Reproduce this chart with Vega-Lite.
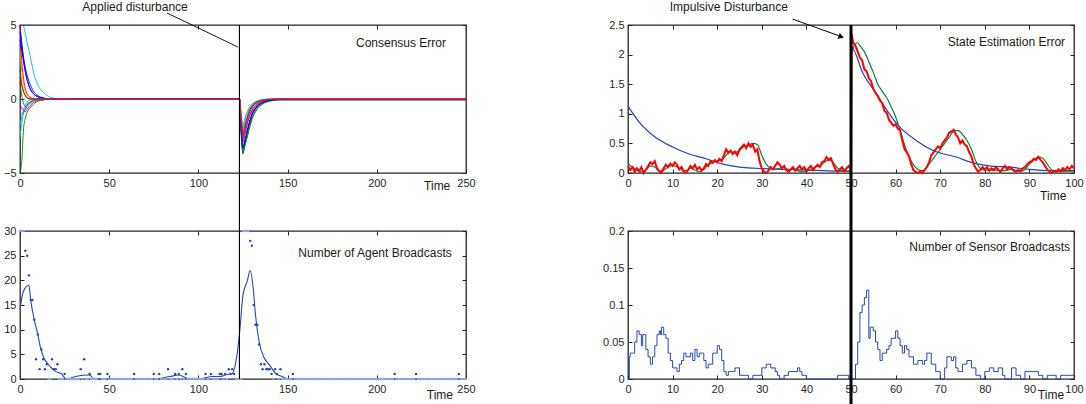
{
"$schema": "https://vega.github.io/schema/vega-lite/v6.json",
"background": "white",
"padding": {"left": 2, "top": 0, "right": 0, "bottom": 0},
"columns": 2,
"spacing": {"row": 58, "column": 162},
"bounds": "flush",
"concat": [
{
"width": 446, "height": 148,
"resolve": {"axis": {"x": "independent", "y": "independent"}},
"layer": [
{"data": {"values": [
{"t":0,"A":5,"B":5,"C":-5,"D":-2.6,"E":-1,"F":3.3,"G":5,"H":4,"I":2,"J":1.2,"K":4.5,"L":-1.8,"M":-0.4,"N":1.5},
{"t":1,"A":5,"B":3.8,"C":-4.2,"D":-1.6,"E":-1,"F":1.8,"G":2.6,"H":3.3,"I":1,"J":0.2,"K":3.6,"L":-1.2,"M":-0.6,"N":0.9},
{"t":2,"A":4.9,"B":2.7,"C":-2,"D":-1,"E":-0.9,"F":1,"G":1.4,"H":2.5,"I":0.5,"J":-0.3,"K":2.8,"L":-0.7,"M":-0.8,"N":0.5},
{"t":3,"A":4.4,"B":1.9,"C":-1.3,"D":-0.6,"E":-0.7,"F":0.5,"G":0.7,"H":1.8,"I":0.25,"J":-0.5,"K":2.1,"L":-0.4,"M":-0.85,"N":0.2},
{"t":4,"A":3.8,"B":1.3,"C":-0.9,"D":-0.35,"E":-0.5,"F":0.25,"G":0.35,"H":1.3,"I":0.1,"J":-0.4,"K":1.6,"L":-0.2,"M":-0.7,"N":0.05},
{"t":6,"A":2.75,"B":0.6,"C":-0.55,"D":-0.15,"E":-0.25,"F":0.05,"G":0.1,"H":0.65,"I":0,"J":-0.2,"K":0.9,"L":-0.05,"M":-0.4,"N":0},
{"t":8,"A":1.6,"B":0.3,"C":-0.3,"D":-0.05,"E":-0.1,"F":0,"G":0,"H":0.3,"I":0,"J":-0.08,"K":0.45,"L":0,"M":-0.2,"N":0},
{"t":10,"A":0.95,"B":0.15,"C":-0.15,"D":0,"E":-0.05,"F":0,"G":0,"H":0.15,"I":0,"J":0,"K":0.22,"L":0,"M":-0.1,"N":0},
{"t":13,"A":0.45,"B":0.05,"C":-0.08,"D":0,"E":0,"F":0,"G":0,"H":0.05,"I":0,"J":0,"K":0.08,"L":0,"M":-0.03,"N":0},
{"t":16,"A":0.18,"B":0,"C":0,"D":0,"E":0,"F":0,"G":0,"H":0,"I":0,"J":0,"K":0.02,"L":0,"M":0,"N":0},
{"t":20,"A":0.04,"B":0,"C":0,"D":0,"E":0,"F":0,"G":0,"H":0,"I":0,"J":0,"K":0,"L":0,"M":0,"N":0},
{"t":123,"A":0,"B":0,"C":0,"D":0,"E":0,"F":0,"G":0,"H":0,"I":0,"J":0,"K":0,"L":0,"M":0,"N":0},
{"t":124,"A":-1.5,"B":-2.2,"C":-2.5,"D":-1.2,"E":-1.6,"F":-1.3,"G":-1.8,"H":-2,"I":-1.4,"J":-2.3,"K":-2.1,"L":-1,"M":-1.7,"N":-1.5},
{"t":125,"A":-2.6,"B":-3.7,"C":-3.6,"D":-2,"E":-2.5,"F":-2.8,"G":-2.9,"H":-3.2,"I":-2.4,"J":-3.4,"K":-3.3,"L":-1.8,"M":-2.7,"N":-2.2},
{"t":126,"A":-2.2,"B":-3,"C":-3.2,"D":-1.5,"E":-2,"F":-2.3,"G":-2.4,"H":-2.8,"I":-1.9,"J":-3.1,"K":-2.9,"L":-1.3,"M":-2.3,"N":-1.8},
{"t":128,"A":-1.2,"B":-1.9,"C":-2.3,"D":-0.8,"E":-1.1,"F":-1.3,"G":-1.4,"H":-1.8,"I":-1,"J":-2.1,"K":-1.9,"L":-0.7,"M":-1.4,"N":-1},
{"t":130,"A":-0.6,"B":-1.1,"C":-1.4,"D":-0.4,"E":-0.6,"F":-0.7,"G":-0.8,"H":-1,"I":-0.5,"J":-1.3,"K":-1.1,"L":-0.35,"M":-0.8,"N":-0.5},
{"t":133,"A":-0.25,"B":-0.5,"C":-0.7,"D":-0.15,"E":-0.25,"F":-0.3,"G":-0.35,"H":-0.45,"I":-0.2,"J":-0.6,"K":-0.5,"L":-0.12,"M":-0.35,"N":-0.2},
{"t":136,"A":-0.1,"B":-0.25,"C":-0.35,"D":-0.05,"E":-0.1,"F":-0.1,"G":-0.15,"H":-0.2,"I":-0.08,"J":-0.3,"K":-0.25,"L":-0.04,"M":-0.15,"N":-0.08},
{"t":140,"A":-0.05,"B":-0.1,"C":-0.15,"D":0,"E":-0.03,"F":-0.03,"G":-0.05,"H":-0.08,"I":-0.02,"J":-0.12,"K":-0.1,"L":0,"M":-0.05,"N":-0.03},
{"t":145,"A":0,"B":-0.05,"C":-0.05,"D":0,"E":0,"F":0,"G":0,"H":-0.03,"I":0,"J":-0.05,"K":-0.04,"L":0,"M":-0.02,"N":0},
{"t":250,"A":0,"B":-0.05,"C":-0.05,"D":0,"E":0,"F":0,"G":0,"H":-0.03,"I":0,"J":-0.05,"K":-0.04,"L":0,"M":-0.02,"N":0}
]},
"transform": [{"fold": ["A","B","C","D","E","F","G","H","I","J","K","L","M","N"], "as": ["s","v"]}],
"mark": {"type": "line", "strokeWidth": 0.9, "interpolate": "monotone"},
"encoding": {
"x": {"field": "t", "type": "quantitative", "scale": {"domain": [0,250], "nice": false}, "axis": {"orient": "bottom", "values": [0,50,100,150,200,250], "title": null}},
"y": {"field": "v", "type": "quantitative", "scale": {"domain": [-5,5], "nice": false}, "axis": {"orient": "left", "values": [-5,0,5], "title": null}},
"color": {"field": "s", "type": "nominal", "legend": null, "scale": {"domain": ["A","B","C","D","E","F","G","H","I","J","K","L","M","N"], "range": ["#00bfbf","#0000ff","#008000","#00bfbf","#bf00bf","#bfbf00","#ff0000","#0000ff","#404040","#008000","#0000ff","#00bfbf","#bf00bf","#ff0000"]}}
}},
{"data": {"values": [{"t":0,"v":0}]}, "mark": {"type": "point", "opacity": 0},
"encoding": {
"x": {"field": "t", "type": "quantitative", "scale": {"domain": [0,250], "nice": false}, "axis": {"orient": "top", "labels": false, "values": [0,50,100,150,200,250], "title": null}},
"y": {"field": "v", "type": "quantitative", "scale": {"domain": [-5,5], "nice": false}, "axis": {"orient": "right", "labels": false, "values": [-5,0,5], "title": null}}
}},
{"data": {"values": [{"t":123,"v":5,"v2":-8.92}]}, "mark": {"type": "rule", "color": "#000000", "strokeWidth": 1.1},
"encoding": {"x": {"field": "t", "type": "quantitative", "axis": null, "scale": {"domain": [0,250], "nice": false}}, "y": {"field": "v", "type": "quantitative", "axis": null, "scale": {"domain": [-5,5], "nice": false}}, "y2": {"field": "v2"}}},
{"data": {"values": [{"t":82.4,"v":5.81,"t2":122.2,"v2":3.51}]}, "mark": {"type": "rule", "color": "#000000", "strokeWidth": 0.9},
"encoding": {"x": {"field": "t", "type": "quantitative", "axis": null, "scale": {"domain": [0,250], "nice": false}}, "y": {"field": "v", "type": "quantitative", "axis": null, "scale": {"domain": [-5,5], "nice": false}}, "x2": {"field": "t2"}, "y2": {"field": "v2"}}},
{"data": {"values": [{"t":64.5,"v":5.95,"label":"Applied disturbance"}]}, "mark": {"type": "text", "align": "center", "baseline": "alphabetic"},
"encoding": {"x": {"field": "t", "type": "quantitative", "axis": null, "scale": {"domain": [0,250], "nice": false}}, "y": {"field": "v", "type": "quantitative", "axis": null, "scale": {"domain": [-5,5], "nice": false}}, "text": {"field": "label"}}},
{"data": {"values": [{"t":238.8,"v":3.51,"label":"Consensus Error"}]}, "mark": {"type": "text", "align": "right", "baseline": "alphabetic"},
"encoding": {"x": {"field": "t", "type": "quantitative", "axis": null, "scale": {"domain": [0,250], "nice": false}}, "y": {"field": "v", "type": "quantitative", "axis": null, "scale": {"domain": [-5,5], "nice": false}}, "text": {"field": "label"}}},
{"data": {"values": [{"t":226.5,"v":-6.15,"label":"Time"}]}, "mark": {"type": "text", "align": "left", "baseline": "alphabetic"},
"encoding": {"x": {"field": "t", "type": "quantitative", "axis": null, "scale": {"domain": [0,250], "nice": false}}, "y": {"field": "v", "type": "quantitative", "axis": null, "scale": {"domain": [-5,5], "nice": false}}, "text": {"field": "label"}}}
]
},
{
"width": 446, "height": 148,
"resolve": {"axis": {"x": "independent", "y": "independent"}},
"layer": [
{"data": {"values": [{"t":[0,2.5,6.2,10,13.7,17.5,21.2,25,28.7,36,43.7,48,50,50.1,52.7,55.7,58.6,61,64.6,68.4,73.6,77.4,81,85.6,90,94.6,100],"v":[1.13,0.86,0.6,0.44,0.32,0.24,0.15,0.1,0.08,0.06,0.04,0.03,0.03,2.12,1.68,1.34,1.0,0.77,0.55,0.38,0.27,0.17,0.12,0.1,0.06,0.04,0.04]}]},
"transform": [{"flatten": ["t","v"]}],
"mark": {"type": "line", "color": "#2541b2", "strokeWidth": 1.2, "interpolate": "monotone"},
"encoding": {
"x": {"field": "t", "type": "quantitative", "scale": {"domain": [0,100], "nice": false}, "axis": {"orient": "bottom", "values": [0,10,20,30,40,50,60,70,80,90,100], "title": null}},
"y": {"field": "v", "type": "quantitative", "scale": {"domain": [0,2.5], "nice": false}, "axis": {"orient": "left", "values": [0,0.5,1,1.5,2,2.5], "format": "~g", "title": null}}
}},
{"data": {"values": [
{"t":0,"v":0.15},{"t":1,"v":0.1},{"t":2,"v":0.05},{"t":3,"v":0.02},{"t":4,"v":0.05},{"t":5,"v":0.12},{"t":6,"v":0.1},{"t":7,"v":0.03},{"t":8,"v":0.05},{"t":9,"v":0.1},
{"t":10,"v":0.13},{"t":11,"v":0.1},{"t":12,"v":0.06},{"t":13,"v":0.04},{"t":14,"v":0.08},{"t":15,"v":0.05},{"t":16,"v":0.02},{"t":17,"v":0.06},{"t":18,"v":0.14},{"t":19,"v":0.18},
{"t":20,"v":0.2},{"t":21,"v":0.22},{"t":22,"v":0.3},{"t":23,"v":0.36},{"t":24,"v":0.35},{"t":25,"v":0.38},{"t":26,"v":0.45},{"t":27,"v":0.47},{"t":28,"v":0.5},{"t":29,"v":0.48},
{"t":30,"v":0.3},{"t":31,"v":0.15},{"t":32,"v":0.08},{"t":33,"v":0.06},{"t":34,"v":0.08},{"t":35,"v":0.1},{"t":36,"v":0.05},{"t":37,"v":0.08},{"t":38,"v":0.04},{"t":39,"v":0.02},
{"t":40,"v":0.03},{"t":41,"v":0.06},{"t":42,"v":0.1},{"t":43,"v":0.12},{"t":44,"v":0.18},{"t":45,"v":0.22},{"t":46,"v":0.18},{"t":47,"v":0.08},{"t":48,"v":0.04},{"t":49,"v":0.03},
{"t":50,"v":0.03},{"t":50.2,"v":2.05},{"t":51,"v":2.18},{"t":51.5,"v":2.2},{"t":52,"v":2.15},{"t":53,"v":2.05},{"t":54,"v":1.88},{"t":55,"v":1.7},{"t":56,"v":1.5},{"t":57,"v":1.38},
{"t":58,"v":1.27},{"t":59,"v":1.12},{"t":60,"v":0.95},{"t":61,"v":0.72},{"t":62,"v":0.48},{"t":63,"v":0.28},{"t":64,"v":0.14},{"t":65,"v":0.06},{"t":66,"v":0.04},{"t":67,"v":0.1},
{"t":68,"v":0.2},{"t":69,"v":0.3},{"t":70,"v":0.4},{"t":71,"v":0.5},{"t":72,"v":0.6},{"t":73,"v":0.7},{"t":74,"v":0.72},{"t":75,"v":0.65},{"t":76,"v":0.55},{"t":77,"v":0.4},
{"t":78,"v":0.2},{"t":79,"v":0.08},{"t":80,"v":0.05},{"t":82,"v":0.05},{"t":84,"v":0.04},{"t":86,"v":0.06},{"t":88,"v":0.03},{"t":89,"v":0.06},{"t":90,"v":0.15},{"t":91,"v":0.22},
{"t":92,"v":0.27},{"t":93,"v":0.25},{"t":94,"v":0.15},{"t":95,"v":0.05},{"t":96,"v":0.02},{"t":98,"v":0.03},{"t":100,"v":0.03}
]},
"mark": {"type": "line", "color": "#0f7f3a", "strokeWidth": 1.2, "interpolate": "monotone"},
"encoding": {"x": {"field": "t", "type": "quantitative", "axis": null, "scale": {"domain": [0,100], "nice": false}}, "y": {"field": "v", "type": "quantitative", "axis": null, "scale": {"domain": [0,2.5], "nice": false}}}},
{"data": {"values": [
{"t":0,"v":0.12},{"t":0.5,"v":0.05},{"t":1,"v":0.1},{"t":1.5,"v":0.02},{"t":2,"v":0.08},{"t":2.5,"v":0.03},{"t":3,"v":0.1},{"t":3.5,"v":0},{"t":4,"v":0.05},{"t":4.5,"v":0.12},
{"t":5,"v":0.18},{"t":5.5,"v":0.15},{"t":6,"v":0.2},{"t":6.5,"v":0.08},{"t":7,"v":0.03},{"t":7.5,"v":0},{"t":8,"v":0.08},{"t":8.5,"v":0.14},{"t":9,"v":0.1},{"t":9.5,"v":0.16},
{"t":10,"v":0.12},{"t":10.5,"v":0.18},{"t":11,"v":0.14},{"t":11.5,"v":0.06},{"t":12,"v":0.1},{"t":12.5,"v":0.02},{"t":13,"v":0},{"t":13.5,"v":0.05},{"t":14,"v":0.12},{"t":14.5,"v":0.08},
{"t":15,"v":0.14},{"t":15.5,"v":0.06},{"t":16,"v":0.1},{"t":16.5,"v":0.04},{"t":17,"v":0.08},{"t":17.5,"v":0.15},{"t":18,"v":0.12},{"t":18.5,"v":0.2},{"t":19,"v":0.17},{"t":19.5,"v":0.22},
{"t":20,"v":0.18},{"t":20.5,"v":0.24},{"t":21,"v":0.2},{"t":21.5,"v":0.3},{"t":22,"v":0.4},{"t":22.5,"v":0.34},{"t":23,"v":0.38},{"t":23.5,"v":0.32},{"t":24,"v":0.36},{"t":24.5,"v":0.3},
{"t":25,"v":0.4},{"t":25.5,"v":0.44},{"t":26,"v":0.48},{"t":26.5,"v":0.42},{"t":27,"v":0.5},{"t":27.5,"v":0.44},{"t":28,"v":0.48},{"t":28.5,"v":0.36},{"t":29,"v":0.4},{"t":29.5,"v":0.2},
{"t":30,"v":0.08},{"t":30.5,"v":0.02},{"t":31,"v":0},{"t":31.5,"v":0.04},{"t":32,"v":0.1},{"t":32.5,"v":0.06},{"t":33,"v":0.12},{"t":33.5,"v":0.18},{"t":34,"v":0.14},{"t":34.5,"v":0.08},
{"t":35,"v":0.12},{"t":35.5,"v":0.05},{"t":36,"v":0.02},{"t":36.5,"v":0.06},{"t":37,"v":0.1},{"t":37.5,"v":0.04},{"t":38,"v":0.08},{"t":38.5,"v":0.12},{"t":39,"v":0.06},{"t":39.5,"v":0.1},
{"t":40,"v":0.03},{"t":40.5,"v":0.08},{"t":41,"v":0.12},{"t":41.5,"v":0.05},{"t":42,"v":0.1},{"t":42.5,"v":0.14},{"t":43,"v":0.1},{"t":43.5,"v":0.18},{"t":44,"v":0.2},{"t":44.5,"v":0.27},
{"t":45,"v":0.22},{"t":45.5,"v":0.25},{"t":46,"v":0.15},{"t":46.5,"v":0.06},{"t":47,"v":0.02},{"t":47.5,"v":0.06},{"t":48,"v":0.1},{"t":48.5,"v":0.03},{"t":49,"v":0.08},{"t":49.5,"v":0.12},
{"t":50,"v":0.05},{"t":50.1,"v":2.35},{"t":50.5,"v":2.2},{"t":51,"v":2.15},{"t":51.5,"v":2.05},{"t":52,"v":1.95},{"t":52.5,"v":1.9},{"t":53,"v":1.75},{"t":53.5,"v":1.72},{"t":54,"v":1.6},{"t":54.5,"v":1.55},
{"t":55,"v":1.42},{"t":55.5,"v":1.35},{"t":56,"v":1.3},{"t":56.5,"v":1.22},{"t":57,"v":1.18},{"t":57.5,"v":1.05},{"t":58,"v":1.02},{"t":58.5,"v":0.9},{"t":59,"v":0.85},{"t":59.5,"v":0.8},
{"t":60,"v":0.82},{"t":60.5,"v":0.75},{"t":61,"v":0.72},{"t":61.5,"v":0.55},{"t":62,"v":0.4},{"t":62.5,"v":0.35},{"t":63,"v":0.28},{"t":63.5,"v":0.15},{"t":64,"v":0.05},{"t":64.5,"v":0.02},
{"t":65,"v":0},{"t":65.5,"v":0.03},{"t":66,"v":0},{"t":66.5,"v":0.05},{"t":67,"v":0.1},{"t":67.5,"v":0.18},{"t":68,"v":0.3},{"t":68.5,"v":0.35},{"t":69,"v":0.4},{"t":69.5,"v":0.45},
{"t":70,"v":0.42},{"t":70.5,"v":0.5},{"t":71,"v":0.55},{"t":71.5,"v":0.6},{"t":72,"v":0.68},{"t":72.5,"v":0.7},{"t":73,"v":0.73},{"t":73.5,"v":0.65},{"t":74,"v":0.6},{"t":74.5,"v":0.5},
{"t":75,"v":0.55},{"t":75.5,"v":0.48},{"t":76,"v":0.45},{"t":76.5,"v":0.35},{"t":77,"v":0.28},{"t":77.5,"v":0.15},{"t":78,"v":0.08},{"t":78.5,"v":0.02},{"t":79,"v":0.05},{"t":79.5,"v":0.1},
{"t":80,"v":0.06},{"t":80.5,"v":0.1},{"t":81,"v":0.04},{"t":81.5,"v":0.08},{"t":82,"v":0.05},{"t":82.5,"v":0.1},{"t":83,"v":0.06},{"t":83.5,"v":0.02},{"t":84,"v":0.08},{"t":84.5,"v":0.12},
{"t":85,"v":0.06},{"t":85.5,"v":0.1},{"t":86,"v":0.08},{"t":86.5,"v":0.04},{"t":87,"v":0.02},{"t":87.5,"v":0.05},{"t":88,"v":0.03},{"t":88.5,"v":0.08},{"t":89,"v":0.1},{"t":89.5,"v":0.15},
{"t":90,"v":0.18},{"t":90.5,"v":0.2},{"t":91,"v":0.24},{"t":91.5,"v":0.22},{"t":92,"v":0.27},{"t":92.5,"v":0.22},{"t":93,"v":0.18},{"t":93.5,"v":0.12},{"t":94,"v":0.06},{"t":94.5,"v":0.02},
{"t":95,"v":0},{"t":95.5,"v":0.04},{"t":96,"v":0.02},{"t":96.5,"v":0.06},{"t":97,"v":0.03},{"t":97.5,"v":0.08},{"t":98,"v":0.05},{"t":98.5,"v":0.1},{"t":99,"v":0.06},{"t":99.5,"v":0.12},
{"t":100,"v":0.08}
]},
"mark": {"type": "line", "color": "#ff0000", "strokeWidth": 2},
"encoding": {"x": {"field": "t", "type": "quantitative", "axis": null, "scale": {"domain": [0,100], "nice": false}}, "y": {"field": "v", "type": "quantitative", "axis": null, "scale": {"domain": [0,2.5], "nice": false}}}},
{"data": {"values": [{"t":0,"v":0}]}, "mark": {"type": "point", "opacity": 0},
"encoding": {
"x": {"field": "t", "type": "quantitative", "scale": {"domain": [0,100], "nice": false}, "axis": {"orient": "top", "labels": false, "values": [0,10,20,30,40,50,60,70,80,90,100], "title": null}},
"y": {"field": "v", "type": "quantitative", "scale": {"domain": [0,2.5], "nice": false}, "axis": {"orient": "right", "labels": false, "values": [0,0.5,1,1.5,2,2.5], "title": null}}
}},
{"data": {"values": [{"t":50,"v":2.5,"v2":-0.99}]}, "mark": {"type": "rule", "color": "#000000", "strokeWidth": 3},
"encoding": {"x": {"field": "t", "type": "quantitative", "axis": null, "scale": {"domain": [0,100], "nice": false}}, "y": {"field": "v", "type": "quantitative", "axis": null, "scale": {"domain": [0,2.5], "nice": false}}, "y2": {"field": "v2"}}},
{"data": {"values": [{"t":36.9,"v":2.6,"t2":47.6,"v2":2.31}]}, "mark": {"type": "rule", "color": "#000000", "strokeWidth": 1},
"encoding": {"x": {"field": "t", "type": "quantitative", "axis": null, "scale": {"domain": [0,100], "nice": false}}, "y": {"field": "v", "type": "quantitative", "axis": null, "scale": {"domain": [0,2.5], "nice": false}}, "x2": {"field": "t2"}, "y2": {"field": "v2"}}},
{"data": {"values": [{"t":47.8,"v":2.3}]}, "mark": {"type": "point", "shape": "triangle-right", "filled": true, "color": "#000000", "opacity": 1, "size": 40, "angle": 20},
"encoding": {"x": {"field": "t", "type": "quantitative", "axis": null, "scale": {"domain": [0,100], "nice": false}}, "y": {"field": "v", "type": "quantitative", "axis": null, "scale": {"domain": [0,2.5], "nice": false}}}},
{"data": {"values": [{"t":22.6,"v":2.73,"label":"Impulsive Disturbance"}]}, "mark": {"type": "text", "align": "center", "baseline": "alphabetic"},
"encoding": {"x": {"field": "t", "type": "quantitative", "axis": null, "scale": {"domain": [0,100], "nice": false}}, "y": {"field": "v", "type": "quantitative", "axis": null, "scale": {"domain": [0,2.5], "nice": false}}, "text": {"field": "label"}}},
{"data": {"values": [{"t":98,"v":2.14,"label":"State Estimation Error"}]}, "mark": {"type": "text", "align": "right", "baseline": "alphabetic"},
"encoding": {"x": {"field": "t", "type": "quantitative", "axis": null, "scale": {"domain": [0,100], "nice": false}}, "y": {"field": "v", "type": "quantitative", "axis": null, "scale": {"domain": [0,2.5], "nice": false}}, "text": {"field": "label"}}},
{"data": {"values": [{"t":92.4,"v":-0.459,"label":"Time"}]}, "mark": {"type": "text", "align": "left", "baseline": "alphabetic"},
"encoding": {"x": {"field": "t", "type": "quantitative", "axis": null, "scale": {"domain": [0,100], "nice": false}}, "y": {"field": "v", "type": "quantitative", "axis": null, "scale": {"domain": [0,2.5], "nice": false}}, "text": {"field": "label"}}}
]
},
{
"width": 446, "height": 148,
"resolve": {"axis": {"x": "independent", "y": "independent"}},
"layer": [
{"data": {"values": [{"t":[0,1.3,3,5,6,8,10,11.6,13.5,16,20,23,26,31,39,41.5,74,84,89,95,100,108,112,115,119,121,123,125,127.5,129,130.7,132,134,137,139.7,143.4,147,150,250],"v":[14,17,18.5,19,16,12,9,6.2,4.2,2.9,1.5,1.1,0,0.5,0.8,0,0,0.5,0.8,0,0,0.5,0.5,0.8,1.1,3.5,9,17,20,22,18.5,13,7.6,4.2,2.9,1.1,0.5,0,0]}]},
"transform": [{"flatten": ["t","v"]}],
"mark": {"type": "line", "color": "#2a48a8", "strokeWidth": 1.1, "interpolate": "monotone"},
"encoding": {
"x": {"field": "t", "type": "quantitative", "scale": {"domain": [0,250], "nice": false}, "axis": {"orient": "bottom", "values": [0,50,100,150,200,250], "title": null}},
"y": {"field": "v", "type": "quantitative", "scale": {"domain": [0,30], "nice": false}, "axis": {"orient": "left", "values": [0,5,10,15,20,25,30], "title": null}}
}},
{"data": {"values": [{"t":[0,1,2,3,4,5,6,7,8,9,10,11,12,13,14,15,16,17,18,19,20,21,22,23,24,25,26,27,28,29,30,31,32,33,34,35,36,37,38,39,40,41,42,43,44,45,46,47,48,49,50,51,52,53,54,55,56,57,58,59,60,61,62,63,64,65,66,67,68,69,70,71,72,73,74,75,76,77,78,79,80,81,82,83,84,85,86,87,88,89,90,91,92,93,94,95,96,97,98,99,100,101,102,103,104,105,106,107,108,109,110,111,112,113,114,115,116,117,118,119,120,121,122,123,124,125,126,127,128,129,130,131,132,133,134,135,136,137,138,139,140,141,142,143,144,145,146,147,148,149,150,151,152,153,154,155,156,157,158,159,160,161,162,163,164,165,166,167,168,169,170,171,172,173,174,175,176,177,178,179,180,181,182,183,184,185,186,187,188,189,190,191,192,193,194,195,196,197,198,199,200,201,202,203,204,205,206,207,208,209,210,211,212,213,214,215,216,217,218,219,220,221,222,223,224,225,226,227,228,229,230,231,232,233,234,235,236,237,238,239,240,241,242,243,244,245,246,247,248,249,250],
"n":[30,30,30,26,25,21,16,16,12,4,9,2,6,4,2,3,0,0,4,2,2,3,0,0,0,1,0,0,0,0,0,0,0,0,2,0,4,0,0,1,0,0,0,0,1,1,0,0,0,1,0,0,0,0,0,0,0,0,0,0,0,0,0,0,1,0,0,0,0,0,0,0,0,0,0,1,0,0,1,0,0,0,0,2,0,0,0,1,0,1,0,2,0,1,0,0,0,0,0,0,0,0,0,0,1,0,0,1,0,0,0,0,1,1,0,1,0,2,1,2,1,0,0,0,0,30,30,30,30,28,27,15,11,11,7,3,2,3,2,2,2,1,0,2,1,0,2,0,0,0,0,0,0,1,0,0,0,0,0,0,0,0,0,0,0,0,0,0,0,0,0,0,0,0,0,0,0,0,0,0,0,0,0,0,0,0,0,0,0,0,0,0,0,0,0,0,0,0,0,0,0,0,0,0,0,0,0,0,0,0,1,0,0,0,0,0,0,0,0,0,0,0,1,0,0,0,0,0,0,0,0,0,0,0,0,0,0,0,0,0,0,0,0,0,0,0,1,0,0,0,0,0,0,0,0,0,0]}]},
"transform": [{"flatten": ["t","n"]}],
"mark": {"type": "circle", "size": 6, "opacity": 1},
"encoding": {
"x": {"field": "t", "type": "quantitative", "axis": null, "scale": {"domain": [0,250], "nice": false}},
"y": {"field": "n", "type": "quantitative", "axis": null, "scale": {"domain": [0,30], "nice": false}},
"color": {"condition": {"test": "datum.n == 0 || datum.n >= 30", "value": "#8ea8e2"}, "value": "#2a48a8"}
}},
{"data": {"values": [{"t":0,"v":0}]}, "mark": {"type": "point", "opacity": 0},
"encoding": {
"x": {"field": "t", "type": "quantitative", "scale": {"domain": [0,250], "nice": false}, "axis": {"orient": "top", "labels": false, "values": [0,50,100,150,200,250], "title": null}},
"y": {"field": "v", "type": "quantitative", "scale": {"domain": [0,30], "nice": false}, "axis": {"orient": "right", "labels": false, "values": [0,5,10,15,20,25,30], "title": null}}
}},
{"data": {"values": [{"t":123,"v":30,"v2":0}]}, "mark": {"type": "rule", "color": "#000000", "strokeWidth": 1.1},
"encoding": {"x": {"field": "t", "type": "quantitative", "axis": null, "scale": {"domain": [0,250], "nice": false}}, "y": {"field": "v", "type": "quantitative", "axis": null, "scale": {"domain": [0,30], "nice": false}}, "y2": {"field": "v2"}}},
{"data": {"values": [{"t":242,"v":24.7,"label":"Number of Agent Broadcasts"}]}, "mark": {"type": "text", "align": "right", "baseline": "alphabetic"},
"encoding": {"x": {"field": "t", "type": "quantitative", "axis": null, "scale": {"domain": [0,250], "nice": false}}, "y": {"field": "v", "type": "quantitative", "axis": null, "scale": {"domain": [0,30], "nice": false}}, "text": {"field": "label"}}},
{"data": {"values": [{"t":228,"v":-4.08,"label":"Time"}]}, "mark": {"type": "text", "align": "left", "baseline": "alphabetic"},
"encoding": {"x": {"field": "t", "type": "quantitative", "axis": null, "scale": {"domain": [0,250], "nice": false}}, "y": {"field": "v", "type": "quantitative", "axis": null, "scale": {"domain": [0,30], "nice": false}}, "text": {"field": "label"}}}
]
},
{
"width": 446, "height": 148,
"resolve": {"axis": {"x": "independent", "y": "independent"}},
"layer": [
{"data": {"values": [
{"t":0,"v":0},{"t":0.3,"v":0.03},{"t":0.5,"v":0.035},{"t":1,"v":0.035},{"t":1.5,"v":0.05},{"t":2,"v":0.065},{"t":2.5,"v":0.06},{"t":3,"v":0.045},{"t":3.3,"v":0.06},{"t":4,"v":0.04},
{"t":4.5,"v":0.03},{"t":5,"v":0.02},{"t":5.5,"v":0.03},{"t":6,"v":0.045},{"t":6.5,"v":0.06},{"t":7,"v":0.065},{"t":7.3,"v":0.06},{"t":7.5,"v":0.07},{"t":8,"v":0.06},{"t":8.5,"v":0.055},
{"t":9,"v":0.035},{"t":9.5,"v":0.025},{"t":10,"v":0.015},{"t":11,"v":0.01},{"t":11.5,"v":0.02},{"t":12,"v":0.025},{"t":12.5,"v":0.035},{"t":13,"v":0.03},{"t":14,"v":0.035},{"t":14.5,"v":0.025},
{"t":15,"v":0.04},{"t":15.5,"v":0.03},{"t":16,"v":0.035},{"t":17,"v":0.025},{"t":17.5,"v":0.015},{"t":18,"v":0.02},{"t":19,"v":0.035},{"t":20,"v":0.045},{"t":20.5,"v":0.04},{"t":21,"v":0.025},
{"t":21.5,"v":0.01},{"t":22,"v":0.005},{"t":22.5,"v":0.01},{"t":24,"v":0.015},{"t":25,"v":0.005},{"t":27,"v":0},{"t":28,"v":0.005},{"t":30,"v":0.015},{"t":31,"v":0.02},{"t":32,"v":0.015},
{"t":33,"v":0.01},{"t":33.5,"v":0.005},{"t":34,"v":0},{"t":35,"v":0.005},{"t":36,"v":0.01},{"t":38,"v":0.015},{"t":38.5,"v":0.01},{"t":39,"v":0.005},{"t":40,"v":0},{"t":47,"v":0.005},
{"t":49.5,"v":0},{"t":51,"v":0.02},{"t":51.5,"v":0.05},{"t":52,"v":0.09},{"t":52.5,"v":0.1},{"t":53,"v":0.11},{"t":53.5,"v":0.12},{"t":54,"v":0.055},{"t":54.3,"v":0.07},{"t":55,"v":0.065},
{"t":55.5,"v":0.05},{"t":56,"v":0.04},{"t":56.5,"v":0.025},{"t":57,"v":0.035},{"t":58,"v":0.04},{"t":58.5,"v":0.045},{"t":59,"v":0.055},{"t":60,"v":0.065},{"t":60.5,"v":0.055},{"t":61,"v":0.045},
{"t":61.5,"v":0.035},{"t":62,"v":0.045},{"t":62.5,"v":0.04},{"t":63,"v":0.03},{"t":64,"v":0.02},{"t":65,"v":0.025},{"t":66,"v":0.02},{"t":66.5,"v":0.025},{"t":67,"v":0.035},{"t":68,"v":0.02},
{"t":69,"v":0.01},{"t":70,"v":0},{"t":71,"v":0.015},{"t":71.5,"v":0.03},{"t":72.5,"v":0.025},{"t":73,"v":0.03},{"t":73.5,"v":0.015},{"t":74,"v":0.01},{"t":75,"v":0.02},{"t":76,"v":0.025},
{"t":77,"v":0.015},{"t":78,"v":0.005},{"t":79,"v":0},{"t":80,"v":0.01},{"t":81,"v":0.015},{"t":82,"v":0.01},{"t":83,"v":0.015},{"t":84,"v":0.005},{"t":84.5,"v":0},{"t":86,"v":0.015},
{"t":87,"v":0.005},{"t":88,"v":0},{"t":89,"v":0.01},{"t":92,"v":0.005},{"t":93,"v":0},{"t":94,"v":0.005},{"t":96,"v":0},{"t":97,"v":0.005},{"t":100,"v":0.005}
]},
"mark": {"type": "line", "color": "#2a48a8", "strokeWidth": 1, "interpolate": "step-after"},
"encoding": {
"x": {"field": "t", "type": "quantitative", "scale": {"domain": [0,100], "nice": false}, "axis": {"orient": "bottom", "values": [0,10,20,30,40,50,60,70,80,90,100], "title": null}},
"y": {"field": "v", "type": "quantitative", "scale": {"domain": [0,0.2], "nice": false}, "axis": {"orient": "left", "values": [0,0.05,0.1,0.15,0.2], "format": "~g", "title": null}}
}},
{"data": {"values": [{"t":0,"v":0}]}, "mark": {"type": "point", "opacity": 0},
"encoding": {
"x": {"field": "t", "type": "quantitative", "scale": {"domain": [0,100], "nice": false}, "axis": {"orient": "top", "labels": false, "values": [0,10,20,30,40,50,60,70,80,90,100], "title": null}},
"y": {"field": "v", "type": "quantitative", "scale": {"domain": [0,0.2], "nice": false}, "axis": {"orient": "right", "labels": false, "values": [0,0.05,0.1,0.15,0.2], "title": null}}
}},
{"data": {"values": [{"t":50,"v":0.2,"v2":-0.037}]}, "mark": {"type": "rule", "color": "#000000", "strokeWidth": 3},
"encoding": {"x": {"field": "t", "type": "quantitative", "axis": null, "scale": {"domain": [0,100], "nice": false}}, "y": {"field": "v", "type": "quantitative", "axis": null, "scale": {"domain": [0,0.2], "nice": false}}, "y2": {"field": "v2"}}},
{"data": {"values": [{"t":99.1,"v":0.173,"label":"Number of Sensor Broadcasts"}]}, "mark": {"type": "text", "align": "right", "baseline": "alphabetic"},
"encoding": {"x": {"field": "t", "type": "quantitative", "axis": null, "scale": {"domain": [0,100], "nice": false}}, "y": {"field": "v", "type": "quantitative", "axis": null, "scale": {"domain": [0,0.2], "nice": false}}, "text": {"field": "label"}}},
{"data": {"values": [{"t":91.9,"v":-0.0272,"label":"Time"}]}, "mark": {"type": "text", "align": "left", "baseline": "alphabetic"},
"encoding": {"x": {"field": "t", "type": "quantitative", "axis": null, "scale": {"domain": [0,100], "nice": false}}, "y": {"field": "v", "type": "quantitative", "axis": null, "scale": {"domain": [0,0.2], "nice": false}}, "text": {"field": "label"}}}
]
}
],
"config": {
"view": {"stroke": "#262626", "strokeWidth": 1.3},
"axis": {"domain": false, "grid": false, "ticks": true, "tickSize": -4, "tickColor": "#262626", "tickWidth": 1, "labelPadding": 8, "labelFont": "Liberation Sans", "labelFontSize": 11, "labelColor": "#262626", "labelFlush": false, "labelOverlap": false, "labelBound": false},
"text": {"font": "Liberation Sans", "fontSize": 12, "color": "#1a1a1a"}
}
}
